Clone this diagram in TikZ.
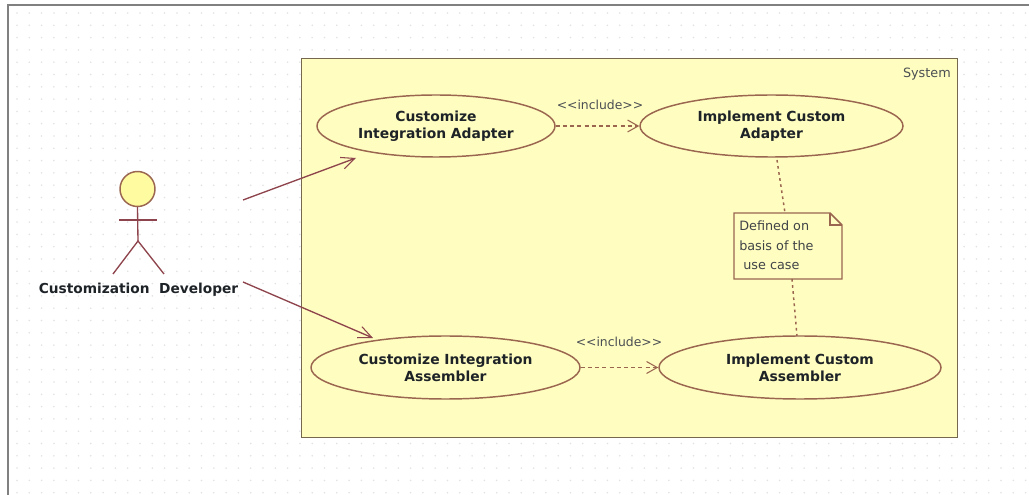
\documentclass[tikz,border=0pt]{standalone}
\usepackage{fontspec}
\setmainfont{DejaVu Sans}
\usetikzlibrary{shapes.geometric,arrows.meta}
\definecolor{umlline}{HTML}{9A6650}
\definecolor{assoc}{HTML}{8E444C}
\definecolor{sysfill}{HTML}{FFFDC0}
\definecolor{headfill}{HTML}{FFFBA0}
\definecolor{gridgray}{HTML}{E2E2E2}
\definecolor{txtc}{HTML}{1E2328}
\definecolor{frameg}{HTML}{808080}
\definecolor{sysline}{HTML}{75684F}
\tikzset{
  x=0.75pt,y=-0.75pt,
  usecase/.style={ellipse,draw=umlline,line width=1.1pt,fill=sysfill,inner sep=0pt,align=center,text=txtc,font=\fontsize{10.4}{12.9}\selectfont\bfseries},
  stereo/.style={text=txtc!80,font=\fontsize{9.3}{11}\selectfont,inner sep=0pt},
  assocline/.style={draw=assoc,line width=1pt,-{Straight Barb[length=10pt,width=9pt,line width=0.8pt]}},
  incl/.style={draw=umlline,line width=1pt,dash pattern=on 3pt off 2.4pt,-{Straight Barb[length=8pt,width=9pt,line width=0.8pt]}},
  notelink/.style={draw=umlline,line width=1.1pt,dash pattern=on 2pt off 2.6pt},
  stick/.style={draw=assoc,line width=1pt}
}
\begin{document}
\begin{tikzpicture}
\useasboundingbox (0,0) rectangle (1029,495);
\fill[white] (0,0) rectangle (1029,495);
\foreach \i in {0,...,83}{\foreach \j in {0,...,39}{
  \fill[gridgray] ({17+12.3*\i},{13+12.3*\j}) circle[radius=0.65pt];}}
\draw[frameg,line width=2pt] (8,495) -- (8,5) -- (1029,5);
% system
\node[draw=sysline,line width=1.1pt,fill=sysfill,minimum width=656*0.75pt,minimum height=379*0.75pt,inner sep=0pt,anchor=north west] (sys) at (301,58) {};
\node[stereo,font=\fontsize{9.6}{11}\selectfont,anchor=north east] (syslabel) at (951,68) {System};
% use cases
\node[usecase,minimum width=238*0.75pt,minimum height=62*0.75pt] (cia) at (436,126) {Customize\\Integration Adapter};
\node[usecase,minimum width=263*0.75pt,minimum height=62*0.75pt] (ica) at (771.5,126) {Implement Custom\\Adapter};
\node[usecase,minimum width=269*0.75pt,minimum height=63*0.75pt] (cis) at (445.5,367.5) {Customize Integration\\Assembler};
\node[usecase,minimum width=282*0.75pt,minimum height=63*0.75pt] (ics) at (800,367.5) {Implement Custom\\Assembler};
% note
\draw[umlline,line width=1.1pt,fill=sysfill] (734,213) -- (830,213) -- (842,225) -- (842,279) -- (734,279) -- cycle;
\draw[umlline,line width=1.1pt] (830,213) -- (830,225) -- (842,225);
\node[inner sep=0pt,minimum width=108*0.75pt,minimum height=66*0.75pt] (note) at (788,246) {};
\node[anchor=north west,inner sep=0pt,align=left,text=txtc!85,font=\fontsize{9.6}{14.5}\selectfont] (notetext) at (739,221) {Defined on\\basis of the\\\ use case};
\coordinate (notetop) at (785,213);
\coordinate (notebot) at (792,279);
\coordinate (ah) at (777,160);
\coordinate (sh) at (797,336);
\draw[notelink] (ah) -- (notetop);
\draw[notelink] (notebot) -- (sh);
% includes
\draw[incl] (cia.east) -- (ica.west);
\draw[incl] (cis.east) -- (ics.west);
\node[stereo] (inc1) at (600,105) {<{}<include>{}>};
\node[stereo] (inc2) at (619,342) {<{}<include>{}>};
% actor
\node[circle,draw=umlline,line width=1.1pt,fill=headfill,minimum size=35*0.75pt,inner sep=0pt] (head) at (137.5,189) {};
\coordinate (hip) at (138,241);
\draw[stick] (head.south) -- (hip);
\coordinate (armL) at (119,220); \coordinate (armR) at (157,220);
\coordinate (legL) at (113,274); \coordinate (legR) at (164,274);
\draw[stick] (armL) -- (armR);
\draw[stick] (legL) -- (hip) -- (legR);
\node[inner sep=0pt,text=txtc,font=\fontsize{10.3}{12}\selectfont\bfseries] (actor) at (138.5,290) {Customization\ \ Developer};
% associations
\coordinate (a1) at (243,200);
\coordinate (a2) at (243,282);
\coordinate (b1) at (356,158);
\coordinate (b2) at (373,338);
\draw[assocline] (a1) -- (b1);
\draw[assocline] (a2) -- (b2);
\end{tikzpicture}
\end{document}
